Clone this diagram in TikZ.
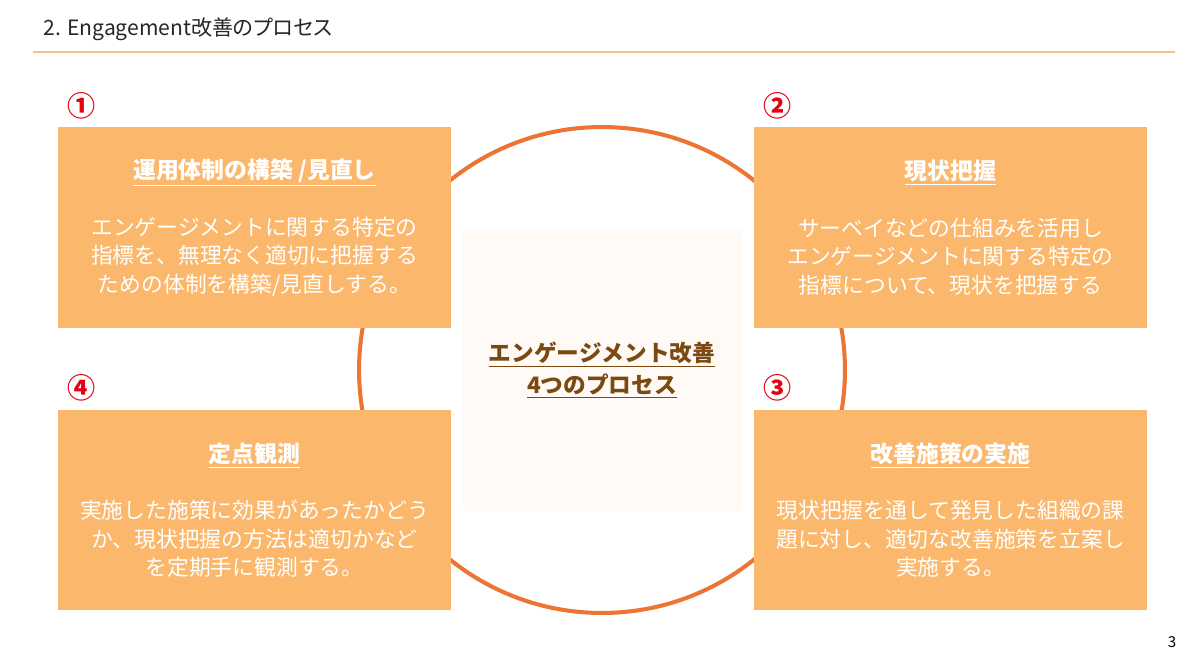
\documentclass[tikz,border=0pt]{standalone}
\usepackage{fontspec}
\setmainfont{Noto Sans CJK JP}
\newfontfamily\titlefont{Noto Sans CJK JP}[RawFeature=+palt]
\usetikzlibrary{positioning}

\definecolor{boxorange}{HTML}{FBB86C}
\definecolor{ringorange}{HTML}{ED7433}
\definecolor{rulecolor}{HTML}{F6C08A}
\definecolor{numred}{HTML}{E60012}
\definecolor{corebrown}{HTML}{7B4A12}
\definecolor{corefill}{HTML}{FFFAF6}

\begin{document}
\begin{tikzpicture}[x=0.02cm, y=-0.02cm,
    stepbox/.style={fill=boxorange, text=white, inner sep=0pt,
        minimum width=7.86cm, minimum height=4.02cm, align=center,
        font=\fontsize{12.4}{16.2}\selectfont},
    numlabel/.style={text=numred, inner sep=0pt,
        font=\bfseries\fontsize{16}{16}\selectfont},
    ring/.style={draw=ringorange, line width=2.3pt},
    titlerule/.style={draw=rulecolor, line width=0.9pt}]
        % Parameters
        \def\R{4.86cm} % ring radius
        \def\gap{16pt} % heading to text

        % Canvas
        \useasboundingbox (0,0) rectangle (1200,670);

        % Title and rule
        \node[anchor=west, inner sep=0pt, text=black!85,
            font=\titlefont\fontsize{12}{12}\selectfont] (title) at (43,29)
            {2. Engagement改善のプロセス};
        \coordinate (ruleL) at (33,52);
        \coordinate (ruleR) at (1175,52);
        \draw[titlerule] (ruleL) -- (ruleR);

        % Ring
        \coordinate (O) at (602,370);
        \draw[ring] (O) circle (\R);

        % Center panel
        \node[fill=corefill, minimum width=5.56cm, minimum height=5.64cm,
            align=center, text=corebrown,
            font=\bfseries\fontsize{12.9}{18}\selectfont] (core) at (O)
            {\underline{エンゲージメント改善}\\\underline{4つのプロセス}};

        % Steps
        \node[stepbox] (step1) at (254.5,227.5)
            {\textbf{\fontsize{13}{16.2}\selectfont\underline{運用体制の構築 /見直し}}\\[\gap]
             エンゲージメントに関する特定の\\指標を、無理なく適切に把握する\\ための体制を構築/見直しする。};
        \node[stepbox] (step2) at (950.5,227.5)
            {\textbf{\fontsize{13}{16.2}\selectfont\underline{現状把握}}\\[\gap]
             サーベイなどの仕組みを活用し\\エンゲージメントに関する特定の\\指標について、現状を把握する};
        \node[stepbox] (step3) at (950.5,510)
            {\textbf{\fontsize{13}{16.2}\selectfont\underline{改善施策の実施}}\\[\gap]
             現状把握を通して発見した組織の課\\題に対し、適切な改善施策を立案し\\実施する。};
        \node[stepbox] (step4) at (254.5,510)
            {\textbf{\fontsize{13}{16.2}\selectfont\underline{定点観測}}\\[\gap]
             実施した施策に効果があったかどう\\か、現状把握の方法は適切かなど\\を定期手に観測する。};

        % Step numbers
        \node[numlabel] (num1) at ([shift={(24,-21)}]step1.north west) {①};
        \node[numlabel] (num2) at ([shift={(24,-21)}]step2.north west) {②};
        \node[numlabel] (num3) at ([shift={(24,-21)}]step3.north west) {③};
        \node[numlabel] (num4) at ([shift={(24,-21)}]step4.north west) {④};

        % Page number
        \node[inner sep=0pt, font=\fontsize{8.6}{8.6}\selectfont] (page) at (1172,642) {3};

    \end{tikzpicture}
\end{document}
